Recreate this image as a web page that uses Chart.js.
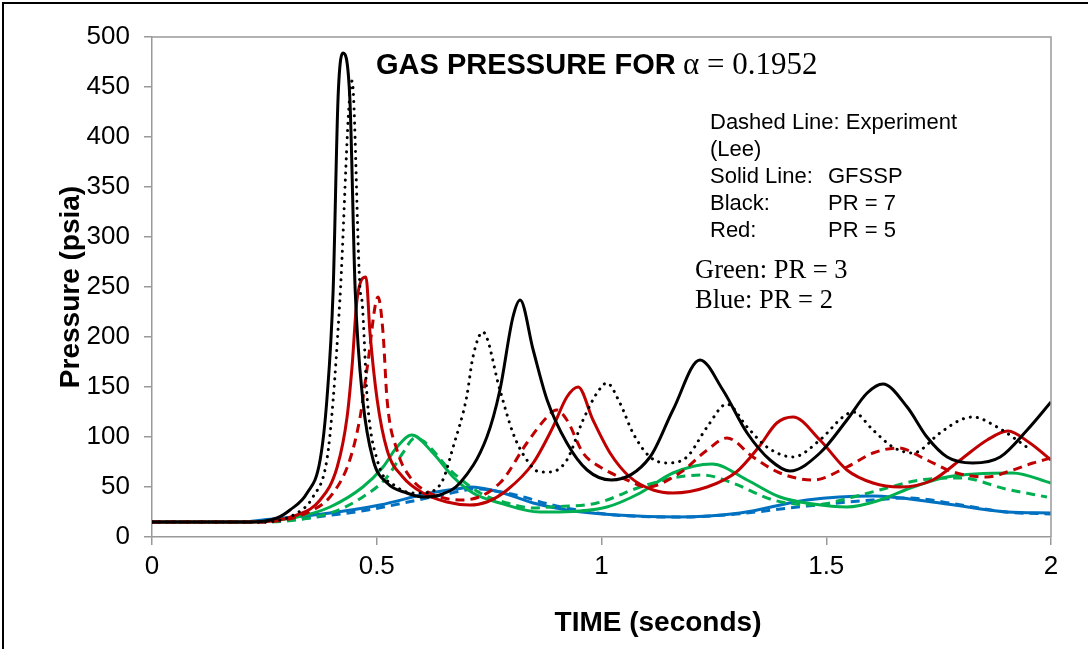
<!DOCTYPE html>
<html>
<head>
<meta charset="utf-8">
<script src="https://cdn.jsdelivr.net/npm/chart.js@4"></script>
<style>
  body { margin: 0; background: #fff; }
  #wrap { position: relative; width: 1088px; height: 649px; }
</style>
</head>
<body>
<div id="wrap"><canvas id="gas"></canvas></div>
<script>
// GFSSP (solid) and Lee experiment (dashed / dotted), time in s, pressure in psia
const blackSimT = [0, 0.22, 0.278, 0.307, 0.345, 0.374, 0.389, 0.403, 0.414, 0.425, 0.440, 0.452, 0.469, 0.492, 0.523, 0.567, 0.603, 0.640, 0.685, 0.745, 0.774, 0.803, 0.819, 0.848, 0.879, 0.923, 0.968, 1.022, 1.108, 1.159, 1.219, 1.270, 1.324, 1.375, 1.419, 1.486, 1.546, 1.591, 1.626, 1.680, 1.724, 1.769, 1.826, 1.887, 1.947, 2.0];
const blackSimP = [15, 15, 19, 27, 44, 77, 137, 247, 440, 484, 440, 247, 137, 77, 54, 44, 40, 42, 54, 100, 147, 220, 237, 187, 137, 94, 67, 57, 80, 127, 177, 147, 104, 77, 66, 84, 117, 144, 153, 130, 100, 80, 74, 80, 107, 135];

const blackExpT = [0, 0.24, 0.323, 0.358, 0.389, 0.403, 0.418, 0.445, 0.463, 0.467, 0.479, 0.501, 0.545, 0.590, 0.618, 0.647, 0.670, 0.700, 0.714, 0.736, 0.774, 0.803, 0.834, 0.863, 0.885, 0.923, 0.959, 0.990, 1.012, 1.041, 1.070, 1.108, 1.146, 1.190, 1.235, 1.279, 1.324, 1.368, 1.426, 1.486, 1.537, 1.560, 1.604, 1.648, 1.693, 1.753, 1.798, 1.826, 1.880, 1.924, 1.955];
const blackExpP = [15, 15, 24, 40, 77, 137, 237, 456, 247, 237, 137, 77, 50, 44, 45, 57, 90, 140, 180, 205, 147, 104, 77, 65, 65, 77, 117, 144, 154, 134, 104, 80, 74, 80, 110, 133, 110, 90, 80, 97, 120, 125, 107, 90, 84, 104, 117, 120, 110, 97, 87];

const redSimT = [0, 0.22, 0.323, 0.374, 0.412, 0.434, 0.445, 0.456, 0.476, 0.485, 0.501, 0.523, 0.558, 0.603, 0.656, 0.707, 0.745, 0.790, 0.848, 0.892, 0.923, 0.948, 0.981, 1.019, 1.063, 1.115, 1.159, 1.235, 1.300, 1.350, 1.390, 1.426, 1.486, 1.546, 1.604, 1.664, 1.737, 1.798, 1.858, 1.904, 1.953, 2.0];
const redSimP = [15, 15, 22, 37, 70, 120, 170, 237, 260, 204, 137, 87, 60, 44, 35, 32, 35, 47, 74, 110, 140, 150, 117, 84, 60, 47, 44, 50, 65, 90, 114, 120, 97, 67, 54, 50, 57, 77, 97, 106, 94, 77];

const redExpT = [0, 0.24, 0.358, 0.403, 0.440, 0.463, 0.479, 0.503, 0.514, 0.523, 0.545, 0.574, 0.618, 0.692, 0.774, 0.834, 0.879, 0.900, 0.923, 0.959, 0.997, 1.057, 1.101, 1.174, 1.235, 1.279, 1.337, 1.397, 1.471, 1.546, 1.604, 1.660, 1.724, 1.782, 1.858, 1.915, 1.960, 2.0];
const redExpP = [15, 15, 27, 44, 77, 120, 170, 240, 204, 137, 87, 60, 44, 37, 54, 94, 120, 127, 117, 84, 70, 57, 50, 64, 87, 99, 80, 64, 57, 70, 84, 89, 77, 65, 60, 67, 74, 79];

const greenSimT = [0, 0.20, 0.323, 0.396, 0.469, 0.514, 0.545, 0.578, 0.625, 0.670, 0.714, 0.774, 0.863, 0.885, 1.012, 1.086, 1.159, 1.246, 1.324, 1.397, 1.471, 1.546, 1.620, 1.693, 1.769, 1.915, 2.0];
const greenSimP = [15, 15, 20, 30, 50, 70, 90, 102, 84, 60, 44, 34, 25, 25, 30, 44, 64, 73, 57, 40, 33, 30, 37, 50, 60, 64, 54];

const greenExpT = [0, 0.24, 0.396, 0.469, 0.523, 0.558, 0.585, 0.670, 0.730, 0.790, 0.848, 0.885, 0.990, 1.086, 1.159, 1.226, 1.292, 1.382, 1.471, 1.560, 1.635, 1.709, 1.800, 1.900, 1.991];
const greenExpP = [15, 15, 24, 40, 60, 84, 99, 64, 44, 34, 29, 30, 34, 50, 59, 62, 54, 37, 32, 40, 49, 57, 59, 48, 40];

const blueSimT = [0, 0.20, 0.247, 0.396, 0.507, 0.618, 0.692, 0.707, 0.774, 0.848, 0.923, 1.034, 1.170, 1.308, 1.457, 1.604, 1.753, 1.902, 2.0];
const blueSimP = [15, 15, 17, 24, 32, 44, 49, 50, 45, 34, 27, 22, 20, 24, 37, 41, 34, 25, 24];

const blueExpT = [0, 0.24, 0.400, 0.480, 0.581, 0.656, 0.720, 0.800, 0.900, 1.030, 1.180, 1.300, 1.457, 1.604, 1.680, 1.800, 1.900, 2.0];
const blueExpP = [15, 15, 22, 27, 36, 43, 48, 43, 31, 22, 20, 23, 31, 37, 39, 32, 25, 23];

const xTicks = [0, 0.5, 1, 1.5, 2];
const yMax = 500;

const BLACK = "#000000";
const RED = "#C00000";
const GREEN = "#00B050";
const BLUE = "#0070C0";
const SANS = "'Liberation Sans', Arial, sans-serif";
const SERIF = "'Liberation Serif', 'Times New Roman', serif";

function pts(ts, ps) {
  return ts.map((t, i) => ({ x: t, y: ps[i] }));
}

function series(label, ts, ps, color, dash) {
  return {
    label: label,
    data: pts(ts, ps),
    borderColor: color,
    backgroundColor: color,
    borderWidth: 3,
    borderDash: dash,
    borderCapStyle: dash.length && dash[0] < 2 ? "round" : "butt",
    pointRadius: 0,
    fill: false,
    cubicInterpolationMode: "monotone",
  };
}

// frame, outer border and the text notes
const decor = {
  id: "decor",
  beforeDraw(chart) {
    const ctx = chart.ctx;
    ctx.save();
    ctx.fillStyle = "#fff";
    ctx.fillRect(0, 0, chart.width, chart.height);
    ctx.fillStyle = "#000";
    ctx.fillRect(2, 2, 2, chart.height - 2);
    ctx.fillRect(2, 2, chart.width - 2, 2);
    ctx.restore();
  },
  afterDraw(chart) {
    const ctx = chart.ctx;
    const a = chart.chartArea;
    ctx.save();
    ctx.strokeStyle = "#999";
    ctx.lineWidth = 1.5;
    ctx.beginPath();
    ctx.moveTo(a.left, a.top);
    ctx.lineTo(a.right, a.top);
    ctx.lineTo(a.right, a.bottom);
    ctx.stroke();

    ctx.fillStyle = "#000";
    ctx.textBaseline = "alphabetic";
    ctx.font = "bold 29px " + SANS;
    ctx.fillText("GAS PRESSURE FOR", 376, 74);
    ctx.font = "31px " + SERIF;
    ctx.fillText("\u03b1 = 0.1952", 683, 74);

    ctx.textAlign = "center";
    ctx.textBaseline = "middle";
    ctx.font = "bold 28px " + SANS;
    ctx.fillText("TIME (seconds)", 658, 623);

    ctx.textAlign = "left";
    ctx.font = "22px " + SANS;
    ctx.fillText("Dashed Line: Experiment", 710, 123);
    ctx.fillText("(Lee)", 710, 150);
    ctx.fillText("Solid Line:", 710, 177);
    ctx.fillText("GFSSP", 828, 177);
    ctx.fillText("Black:", 710, 204);
    ctx.fillText("PR = 7", 828, 204);
    ctx.fillText("Red:", 710, 231);
    ctx.fillText("PR = 5", 828, 231);

    ctx.font = "26.5px " + SERIF;
    ctx.fillText("Green: PR = 3", 695, 271);
    ctx.fillText("Blue: PR = 2", 695, 301);
    ctx.restore();
  },
};

const gasChart = new Chart(document.getElementById("gas"), {
  type: "line",
  data: {
    datasets: [
      series("Black GFSSP", blackSimT, blackSimP, BLACK, []),
      series("Black Experiment", blackExpT, blackExpP, BLACK, [0.1, 7]),
      series("Red GFSSP", redSimT, redSimP, RED, []),
      series("Red Experiment", redExpT, redExpP, RED, [9, 6]),
      series("Green GFSSP", greenSimT, greenSimP, GREEN, []),
      series("Green Experiment", greenExpT, greenExpP, GREEN, [9, 6]),
      series("Blue GFSSP", blueSimT, blueSimP, BLUE, []),
      series("Blue Experiment", blueExpT, blueExpP, BLUE, [9, 6]),
    ],
  },
  plugins: [decor],
  options: {
    responsive: true,
    maintainAspectRatio: false,
    animation: false,
    layout: { padding: { left: 0, top: 37, right: 37, bottom: 0 } },
    plugins: {
      legend: { display: false },
      tooltip: { enabled: false },
    },
    scales: {
      x: {
        type: "linear",
        min: 0,
        max: 2,
        afterFit: (s) => { s.height = 112; },
        afterBuildTicks: (s) => { s.ticks = xTicks.map((v) => ({ value: v })); },
        ticks: {
          color: "#000",
          padding: 6,
          maxRotation: 0,
          font: { family: SANS, size: 26 },
          callback: (v) => String(v),
        },
        grid: { drawOnChartArea: false, tickLength: 8, color: "#999", lineWidth: 1.5 },
        border: { color: "#999", width: 1.5 },
      },
      y: {
        min: 0,
        max: yMax,
        afterFit: (s) => { s.width = 152; },
        ticks: {
          stepSize: 50,
          color: "#000",
          padding: 14,
          font: { family: SANS, size: 26 },
        },
        grid: { drawOnChartArea: false, tickLength: 8, color: "#999", lineWidth: 1.5 },
        border: { color: "#999", width: 1.5 },
        title: {
          display: true,
          text: "Pressure (psia)",
          color: "#000",
          font: { family: SANS, size: 28, weight: "bold" },
          padding: { top: 54, bottom: 0 },
        },
      },
    },
  },
});
</script>
</body>
</html>
